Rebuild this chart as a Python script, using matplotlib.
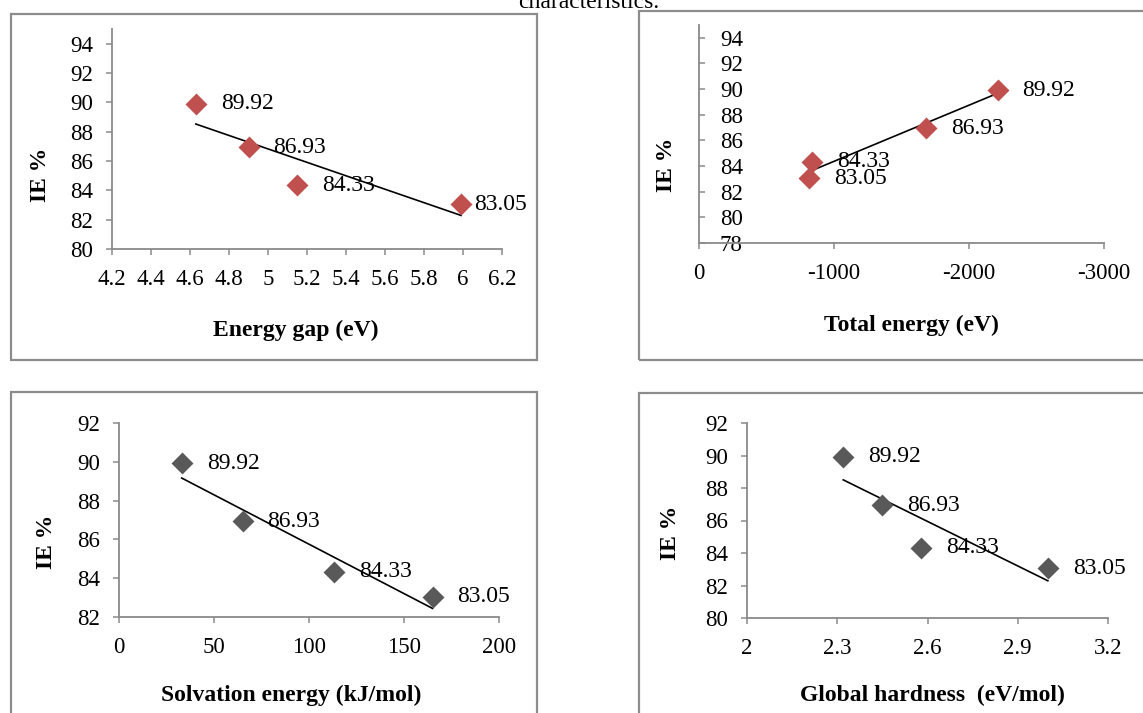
import numpy as np
import matplotlib
matplotlib.use('Agg')
from matplotlib import pyplot as plt
from matplotlib.patches import Rectangle
from matplotlib.ticker import FuncFormatter

# inhibition efficiency (%) of the four compounds
ie_values = [89.92, 86.93, 84.33, 83.05]

# descriptors
energy_gap = [4.63, 4.90, 5.15, 5.99]
total_energy = [-2212, -1679, -835, -817]
solvation_energy = [33, 65, 113, 165]
global_hardness = [2.32, 2.45, 2.58, 3.00]

gap_ticks = [4.2, 4.4, 4.6, 4.8, 5.0, 5.2, 5.4, 5.6, 5.8, 6.0, 6.2]
total_ticks = [0, -1000, -2000, -3000]
solv_ticks = [0, 50, 100, 150, 200]
hard_ticks = [2.0, 2.3, 2.6, 2.9, 3.2]

W, H = 1143, 713
RED = '#C0504D'
GREY = '#595959'
SPINE = '#8a8a8a'
FRAME = '#8c8c8c'

plt.rcParams['font.family'] = ['Liberation Serif', 'DejaVu Serif']

fig = plt.figure(figsize=(W / 100, H / 100), dpi=100)


def px_rect(left, top, right, bottom):
    return [left / W, 1 - bottom / H, (right - left) / W, (bottom - top) / H]


def frame(left, top, right, bottom):
    fig.patches.append(Rectangle((left / W, 1 - bottom / H), (right - left) / W, (bottom - top) / H,
                                 transform=fig.transFigure, fill=False, edgecolor=FRAME,
                                 linewidth=1.6, zorder=0))


def panel(rect, x, y, color, xticks, xlim, yticks, ylim, xlabel, xlab_pos, ylab_pos, offsets):
    ax = fig.add_axes(rect)
    ax.scatter(x, y, marker='D', s=125, color=color, zorder=3, linewidths=0)
    fit = np.polyfit(x, y, 1)
    xs = np.array([min(x), max(x)])
    ax.plot(xs, np.polyval(fit, xs), color='black', linewidth=1.2, zorder=2)
    for xi, yi, off in zip(x, y, offsets):
        ax.annotate(f'{yi:.2f}', (xi, yi), xytext=(off, 0), textcoords='offset pixels',
                    va='center', ha='left', fontsize=17, zorder=4)
    ax.set_xlim(*xlim)
    ax.set_ylim(*ylim)
    ax.set_xticks(xticks)
    ax.set_yticks(yticks)
    ax.xaxis.set_major_formatter(FuncFormatter(lambda v, p: f'{v:g}'))
    for s in ['top', 'right']:
        ax.spines[s].set_visible(False)
    for s in ['left', 'bottom']:
        ax.spines[s].set_color(SPINE)
        ax.spines[s].set_linewidth(1.3)
    ax.tick_params(axis='x', colors=SPINE, labelcolor='black', length=4.5, width=1.1,
                   labelsize=16.5, pad=10)
    ax.tick_params(axis='y', colors=SPINE, labelcolor='black', length=4.5, width=1.1,
                   labelsize=16.5, pad=9)
    ax.set_xlabel(xlabel, fontsize=17, fontweight='bold', va='center', ha='center')
    ax.xaxis.set_label_coords(*xlab_pos)
    ax.set_ylabel('IE %', fontsize=17, fontweight='bold', va='center', ha='center')
    ax.yaxis.set_label_coords(*ylab_pos)
    ax.patch.set_alpha(0)
    return ax


frame(11, 14, 537, 360)
frame(639, 11, 1160, 360)
frame(11, 392, 537, 730)
frame(639, 393, 1160, 730)

fig.text(589 / W, 1 - 8 / H, 'characteristics.', ha='center', va='baseline', fontsize=17)

panel(px_rect(112, 29, 502, 249), energy_gap, ie_values, RED, gap_ticks, (4.2, 6.2),
      list(range(80, 95, 2)), (80, 95), 'Energy gap (eV)',
      (0.471, -0.368), (-0.183, 0.336), [25, 25, 25, 13])

ax_tr = panel(px_rect(699, 25, 1104, 243), total_energy, ie_values, RED, total_ticks, (0, -3000),
              list(range(78, 95, 2)), (78, 95), 'Total energy (eV)',
              (0.525, -0.376), (-0.080, 0.358), [25, 25, 25, 25])
ax_tr.tick_params(axis='y', direction='in', pad=-15)
for lab in ax_tr.get_yticklabels():
    lab.set_horizontalalignment('left')

panel(px_rect(119, 423, 499, 617), solvation_energy, ie_values, GREY, solv_ticks, (0, 200),
      list(range(82, 93, 2)), (82, 92), 'Solvation energy (kJ/mol)',
      (0.452, -0.402), (-0.192, 0.388), [25, 25, 25, 25])

panel(px_rect(747, 423, 1108, 618), global_hardness, ie_values, GREY, hard_ticks, (2.0, 3.2),
      list(range(80, 93, 2)), (80, 92), 'Global hardness  (eV/mol)',
      (0.514, -0.395), (-0.213, 0.436), [25, 25, 25, 25])

fig.savefig('out.png', dpi=100)
